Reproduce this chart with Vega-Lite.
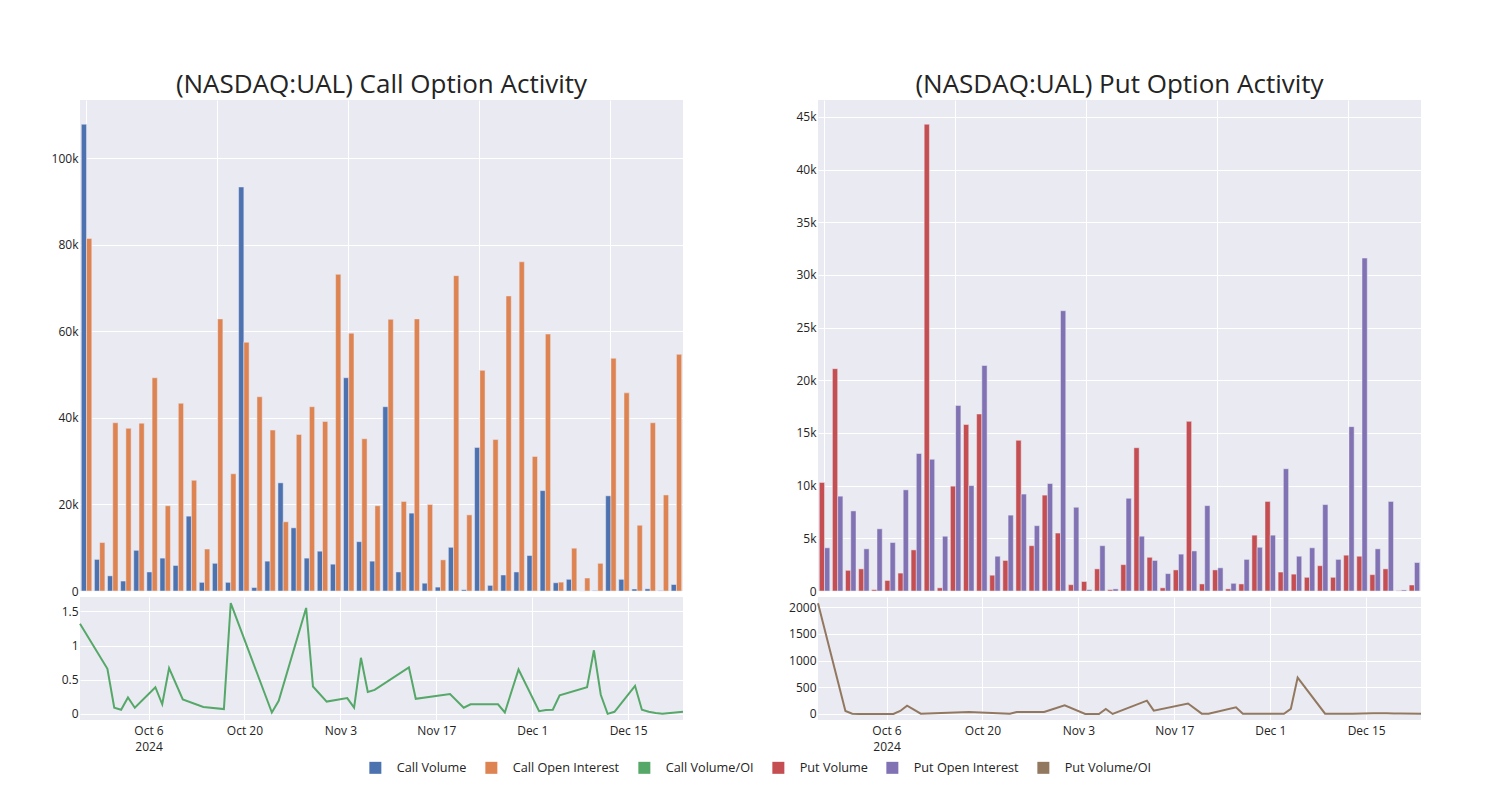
{
  "$schema": "https://vega.github.io/schema/vega-lite/v6.json",
  "background": "white",
  "padding": {"left": 40, "top": 72, "right": 5, "bottom": 5},
  "config": {
    "font": "Open Sans",
    "view": {"fill": "#EAEAF2", "stroke": null},
    "axis": {"grid": true, "gridColor": "white", "gridWidth": 1, "domain": false, "ticks": false, "labelColor": "rgb(36,36,36)", "labelFontSize": 12, "labelFont": "Open Sans", "labelPadding": 2, "title": null},
    "axisY": {"labelFlush": false},
    "axisX": {"labelPadding": 5},
    "title": {"fontSize": 26, "font": "Open Sans", "fontWeight": "normal", "color": "rgb(36,36,36)", "anchor": "middle"}
  },
  "datasets": {
    "cb": [
      {"date": "2024-09-26", "series": "Call Volume", "value": 107900}, {"date": "2024-09-26", "series": "Call Open Interest", "value": 81500},
      {"date": "2024-09-30", "series": "Call Volume", "value": 7300}, {"date": "2024-09-30", "series": "Call Open Interest", "value": 11200},
      {"date": "2024-10-01", "series": "Call Volume", "value": 3500}, {"date": "2024-10-01", "series": "Call Open Interest", "value": 38900},
      {"date": "2024-10-02", "series": "Call Volume", "value": 2300}, {"date": "2024-10-02", "series": "Call Open Interest", "value": 37600},
      {"date": "2024-10-03", "series": "Call Volume", "value": 9400}, {"date": "2024-10-03", "series": "Call Open Interest", "value": 38800},
      {"date": "2024-10-04", "series": "Call Volume", "value": 4400}, {"date": "2024-10-04", "series": "Call Open Interest", "value": 49300},
      {"date": "2024-10-07", "series": "Call Volume", "value": 7600}, {"date": "2024-10-07", "series": "Call Open Interest", "value": 19700},
      {"date": "2024-10-08", "series": "Call Volume", "value": 5900}, {"date": "2024-10-08", "series": "Call Open Interest", "value": 43400},
      {"date": "2024-10-09", "series": "Call Volume", "value": 17300}, {"date": "2024-10-09", "series": "Call Open Interest", "value": 25600},
      {"date": "2024-10-11", "series": "Call Volume", "value": 2000}, {"date": "2024-10-11", "series": "Call Open Interest", "value": 9700},
      {"date": "2024-10-14", "series": "Call Volume", "value": 6400}, {"date": "2024-10-14", "series": "Call Open Interest", "value": 62900},
      {"date": "2024-10-17", "series": "Call Volume", "value": 2000}, {"date": "2024-10-17", "series": "Call Open Interest", "value": 27100},
      {"date": "2024-10-18", "series": "Call Volume", "value": 93400}, {"date": "2024-10-18", "series": "Call Open Interest", "value": 57500},
      {"date": "2024-10-24", "series": "Call Volume", "value": 800}, {"date": "2024-10-24", "series": "Call Open Interest", "value": 44900},
      {"date": "2024-10-25", "series": "Call Volume", "value": 6900}, {"date": "2024-10-25", "series": "Call Open Interest", "value": 37200},
      {"date": "2024-10-29", "series": "Call Volume", "value": 25000}, {"date": "2024-10-29", "series": "Call Open Interest", "value": 16000},
      {"date": "2024-10-30", "series": "Call Volume", "value": 14600}, {"date": "2024-10-30", "series": "Call Open Interest", "value": 36200},
      {"date": "2024-11-01", "series": "Call Volume", "value": 7600}, {"date": "2024-11-01", "series": "Call Open Interest", "value": 42600},
      {"date": "2024-11-04", "series": "Call Volume", "value": 9200}, {"date": "2024-11-04", "series": "Call Open Interest", "value": 39200},
      {"date": "2024-11-05", "series": "Call Volume", "value": 6200}, {"date": "2024-11-05", "series": "Call Open Interest", "value": 73200},
      {"date": "2024-11-06", "series": "Call Volume", "value": 49300}, {"date": "2024-11-06", "series": "Call Open Interest", "value": 59600},
      {"date": "2024-11-07", "series": "Call Volume", "value": 11400}, {"date": "2024-11-07", "series": "Call Open Interest", "value": 35200},
      {"date": "2024-11-08", "series": "Call Volume", "value": 6900}, {"date": "2024-11-08", "series": "Call Open Interest", "value": 19700},
      {"date": "2024-11-13", "series": "Call Volume", "value": 42600}, {"date": "2024-11-13", "series": "Call Open Interest", "value": 62800},
      {"date": "2024-11-14", "series": "Call Volume", "value": 4400}, {"date": "2024-11-14", "series": "Call Open Interest", "value": 20700},
      {"date": "2024-11-19", "series": "Call Volume", "value": 18000}, {"date": "2024-11-19", "series": "Call Open Interest", "value": 62900},
      {"date": "2024-11-21", "series": "Call Volume", "value": 1800}, {"date": "2024-11-21", "series": "Call Open Interest", "value": 20000},
      {"date": "2024-11-22", "series": "Call Volume", "value": 900}, {"date": "2024-11-22", "series": "Call Open Interest", "value": 7200},
      {"date": "2024-11-26", "series": "Call Volume", "value": 10100}, {"date": "2024-11-26", "series": "Call Open Interest", "value": 72900},
      {"date": "2024-11-27", "series": "Call Volume", "value": 300}, {"date": "2024-11-27", "series": "Call Open Interest", "value": 17600},
      {"date": "2024-11-29", "series": "Call Volume", "value": 33200}, {"date": "2024-11-29", "series": "Call Open Interest", "value": 51000},
      {"date": "2024-12-02", "series": "Call Volume", "value": 1300}, {"date": "2024-12-02", "series": "Call Open Interest", "value": 35000},
      {"date": "2024-12-03", "series": "Call Volume", "value": 3700}, {"date": "2024-12-03", "series": "Call Open Interest", "value": 68200},
      {"date": "2024-12-04", "series": "Call Volume", "value": 4400}, {"date": "2024-12-04", "series": "Call Open Interest", "value": 76100},
      {"date": "2024-12-05", "series": "Call Volume", "value": 8200}, {"date": "2024-12-05", "series": "Call Open Interest", "value": 31100},
      {"date": "2024-12-09", "series": "Call Volume", "value": 23200}, {"date": "2024-12-09", "series": "Call Open Interest", "value": 59400},
      {"date": "2024-12-10", "series": "Call Volume", "value": 1900}, {"date": "2024-12-10", "series": "Call Open Interest", "value": 2050},
      {"date": "2024-12-11", "series": "Call Volume", "value": 2700}, {"date": "2024-12-11", "series": "Call Open Interest", "value": 9900},
      {"date": "2024-12-12", "series": "Call Volume", "value": 0}, {"date": "2024-12-12", "series": "Call Open Interest", "value": 3000},
      {"date": "2024-12-13", "series": "Call Volume", "value": 100}, {"date": "2024-12-13", "series": "Call Open Interest", "value": 6400},
      {"date": "2024-12-16", "series": "Call Volume", "value": 22000}, {"date": "2024-12-16", "series": "Call Open Interest", "value": 53800},
      {"date": "2024-12-17", "series": "Call Volume", "value": 2700}, {"date": "2024-12-17", "series": "Call Open Interest", "value": 45800},
      {"date": "2024-12-18", "series": "Call Volume", "value": 460}, {"date": "2024-12-18", "series": "Call Open Interest", "value": 15200},
      {"date": "2024-12-19", "series": "Call Volume", "value": 500}, {"date": "2024-12-19", "series": "Call Open Interest", "value": 38900},
      {"date": "2024-12-20", "series": "Call Volume", "value": 80}, {"date": "2024-12-20", "series": "Call Open Interest", "value": 22200},
      {"date": "2024-12-23", "series": "Call Volume", "value": 1500}, {"date": "2024-12-23", "series": "Call Open Interest", "value": 54700}
    ],
    "cr": [
      {"date": "2024-09-26", "series": "Call Volume/OI", "value": 1.32},
      {"date": "2024-09-30", "series": "Call Volume/OI", "value": 0.66},
      {"date": "2024-10-01", "series": "Call Volume/OI", "value": 0.09},
      {"date": "2024-10-02", "series": "Call Volume/OI", "value": 0.06},
      {"date": "2024-10-03", "series": "Call Volume/OI", "value": 0.24},
      {"date": "2024-10-04", "series": "Call Volume/OI", "value": 0.09},
      {"date": "2024-10-07", "series": "Call Volume/OI", "value": 0.39},
      {"date": "2024-10-08", "series": "Call Volume/OI", "value": 0.14},
      {"date": "2024-10-09", "series": "Call Volume/OI", "value": 0.67},
      {"date": "2024-10-11", "series": "Call Volume/OI", "value": 0.21},
      {"date": "2024-10-14", "series": "Call Volume/OI", "value": 0.10},
      {"date": "2024-10-17", "series": "Call Volume/OI", "value": 0.07},
      {"date": "2024-10-18", "series": "Call Volume/OI", "value": 1.62},
      {"date": "2024-10-24", "series": "Call Volume/OI", "value": 0.02},
      {"date": "2024-10-25", "series": "Call Volume/OI", "value": 0.19},
      {"date": "2024-10-29", "series": "Call Volume/OI", "value": 1.55},
      {"date": "2024-10-30", "series": "Call Volume/OI", "value": 0.40},
      {"date": "2024-11-01", "series": "Call Volume/OI", "value": 0.18},
      {"date": "2024-11-04", "series": "Call Volume/OI", "value": 0.23},
      {"date": "2024-11-05", "series": "Call Volume/OI", "value": 0.09},
      {"date": "2024-11-06", "series": "Call Volume/OI", "value": 0.82},
      {"date": "2024-11-07", "series": "Call Volume/OI", "value": 0.32},
      {"date": "2024-11-08", "series": "Call Volume/OI", "value": 0.35},
      {"date": "2024-11-13", "series": "Call Volume/OI", "value": 0.68},
      {"date": "2024-11-14", "series": "Call Volume/OI", "value": 0.22},
      {"date": "2024-11-19", "series": "Call Volume/OI", "value": 0.29},
      {"date": "2024-11-21", "series": "Call Volume/OI", "value": 0.09},
      {"date": "2024-11-22", "series": "Call Volume/OI", "value": 0.14},
      {"date": "2024-11-26", "series": "Call Volume/OI", "value": 0.14},
      {"date": "2024-11-27", "series": "Call Volume/OI", "value": 0.02},
      {"date": "2024-11-29", "series": "Call Volume/OI", "value": 0.65},
      {"date": "2024-12-02", "series": "Call Volume/OI", "value": 0.04},
      {"date": "2024-12-03", "series": "Call Volume/OI", "value": 0.055},
      {"date": "2024-12-04", "series": "Call Volume/OI", "value": 0.06},
      {"date": "2024-12-05", "series": "Call Volume/OI", "value": 0.27},
      {"date": "2024-12-09", "series": "Call Volume/OI", "value": 0.39},
      {"date": "2024-12-10", "series": "Call Volume/OI", "value": 0.93},
      {"date": "2024-12-11", "series": "Call Volume/OI", "value": 0.28},
      {"date": "2024-12-12", "series": "Call Volume/OI", "value": 0.0},
      {"date": "2024-12-13", "series": "Call Volume/OI", "value": 0.03},
      {"date": "2024-12-16", "series": "Call Volume/OI", "value": 0.41},
      {"date": "2024-12-17", "series": "Call Volume/OI", "value": 0.06},
      {"date": "2024-12-18", "series": "Call Volume/OI", "value": 0.03},
      {"date": "2024-12-19", "series": "Call Volume/OI", "value": 0.013},
      {"date": "2024-12-20", "series": "Call Volume/OI", "value": 0.0},
      {"date": "2024-12-23", "series": "Call Volume/OI", "value": 0.03}
    ],
    "pb": [
      {"date": "2024-09-26", "series": "Put Volume", "value": 10300}, {"date": "2024-09-26", "series": "Put Open Interest", "value": 4100},
      {"date": "2024-09-30", "series": "Put Volume", "value": 21100}, {"date": "2024-09-30", "series": "Put Open Interest", "value": 9000},
      {"date": "2024-10-01", "series": "Put Volume", "value": 1960}, {"date": "2024-10-01", "series": "Put Open Interest", "value": 7600},
      {"date": "2024-10-02", "series": "Put Volume", "value": 2100}, {"date": "2024-10-02", "series": "Put Open Interest", "value": 4000},
      {"date": "2024-10-03", "series": "Put Volume", "value": 130}, {"date": "2024-10-03", "series": "Put Open Interest", "value": 5900},
      {"date": "2024-10-04", "series": "Put Volume", "value": 1000}, {"date": "2024-10-04", "series": "Put Open Interest", "value": 4600},
      {"date": "2024-10-07", "series": "Put Volume", "value": 1700}, {"date": "2024-10-07", "series": "Put Open Interest", "value": 9600},
      {"date": "2024-10-08", "series": "Put Volume", "value": 3900}, {"date": "2024-10-08", "series": "Put Open Interest", "value": 13050},
      {"date": "2024-10-09", "series": "Put Volume", "value": 44300}, {"date": "2024-10-09", "series": "Put Open Interest", "value": 12500},
      {"date": "2024-10-11", "series": "Put Volume", "value": 300}, {"date": "2024-10-11", "series": "Put Open Interest", "value": 5200},
      {"date": "2024-10-14", "series": "Put Volume", "value": 9950}, {"date": "2024-10-14", "series": "Put Open Interest", "value": 17600},
      {"date": "2024-10-17", "series": "Put Volume", "value": 15800}, {"date": "2024-10-17", "series": "Put Open Interest", "value": 10000},
      {"date": "2024-10-18", "series": "Put Volume", "value": 16800}, {"date": "2024-10-18", "series": "Put Open Interest", "value": 21400},
      {"date": "2024-10-24", "series": "Put Volume", "value": 1500}, {"date": "2024-10-24", "series": "Put Open Interest", "value": 3300},
      {"date": "2024-10-25", "series": "Put Volume", "value": 2900}, {"date": "2024-10-25", "series": "Put Open Interest", "value": 7200},
      {"date": "2024-10-29", "series": "Put Volume", "value": 14300}, {"date": "2024-10-29", "series": "Put Open Interest", "value": 9200},
      {"date": "2024-10-30", "series": "Put Volume", "value": 4300}, {"date": "2024-10-30", "series": "Put Open Interest", "value": 6200},
      {"date": "2024-11-01", "series": "Put Volume", "value": 9100}, {"date": "2024-11-01", "series": "Put Open Interest", "value": 10200},
      {"date": "2024-11-04", "series": "Put Volume", "value": 5500}, {"date": "2024-11-04", "series": "Put Open Interest", "value": 26600},
      {"date": "2024-11-05", "series": "Put Volume", "value": 600}, {"date": "2024-11-05", "series": "Put Open Interest", "value": 7950},
      {"date": "2024-11-06", "series": "Put Volume", "value": 900}, {"date": "2024-11-06", "series": "Put Open Interest", "value": 130},
      {"date": "2024-11-07", "series": "Put Volume", "value": 2100}, {"date": "2024-11-07", "series": "Put Open Interest", "value": 4300},
      {"date": "2024-11-08", "series": "Put Volume", "value": 130}, {"date": "2024-11-08", "series": "Put Open Interest", "value": 200},
      {"date": "2024-11-13", "series": "Put Volume", "value": 2500}, {"date": "2024-11-13", "series": "Put Open Interest", "value": 8800},
      {"date": "2024-11-14", "series": "Put Volume", "value": 13600}, {"date": "2024-11-14", "series": "Put Open Interest", "value": 5200},
      {"date": "2024-11-19", "series": "Put Volume", "value": 3200}, {"date": "2024-11-19", "series": "Put Open Interest", "value": 2900},
      {"date": "2024-11-21", "series": "Put Volume", "value": 300}, {"date": "2024-11-21", "series": "Put Open Interest", "value": 1650},
      {"date": "2024-11-22", "series": "Put Volume", "value": 2000}, {"date": "2024-11-22", "series": "Put Open Interest", "value": 3500},
      {"date": "2024-11-26", "series": "Put Volume", "value": 16100}, {"date": "2024-11-26", "series": "Put Open Interest", "value": 3800},
      {"date": "2024-11-27", "series": "Put Volume", "value": 670}, {"date": "2024-11-27", "series": "Put Open Interest", "value": 8100},
      {"date": "2024-11-29", "series": "Put Volume", "value": 2000}, {"date": "2024-11-29", "series": "Put Open Interest", "value": 2200},
      {"date": "2024-12-02", "series": "Put Volume", "value": 200}, {"date": "2024-12-02", "series": "Put Open Interest", "value": 730},
      {"date": "2024-12-03", "series": "Put Volume", "value": 670}, {"date": "2024-12-03", "series": "Put Open Interest", "value": 3000},
      {"date": "2024-12-04", "series": "Put Volume", "value": 5300}, {"date": "2024-12-04", "series": "Put Open Interest", "value": 4150},
      {"date": "2024-12-05", "series": "Put Volume", "value": 8500}, {"date": "2024-12-05", "series": "Put Open Interest", "value": 5300},
      {"date": "2024-12-09", "series": "Put Volume", "value": 1800}, {"date": "2024-12-09", "series": "Put Open Interest", "value": 11600},
      {"date": "2024-12-10", "series": "Put Volume", "value": 1600}, {"date": "2024-12-10", "series": "Put Open Interest", "value": 3300},
      {"date": "2024-12-11", "series": "Put Volume", "value": 1300}, {"date": "2024-12-11", "series": "Put Open Interest", "value": 4100},
      {"date": "2024-12-12", "series": "Put Volume", "value": 2400}, {"date": "2024-12-12", "series": "Put Open Interest", "value": 8200},
      {"date": "2024-12-13", "series": "Put Volume", "value": 1300}, {"date": "2024-12-13", "series": "Put Open Interest", "value": 3000},
      {"date": "2024-12-16", "series": "Put Volume", "value": 3400}, {"date": "2024-12-16", "series": "Put Open Interest", "value": 15600},
      {"date": "2024-12-17", "series": "Put Volume", "value": 3300}, {"date": "2024-12-17", "series": "Put Open Interest", "value": 31600},
      {"date": "2024-12-18", "series": "Put Volume", "value": 1550}, {"date": "2024-12-18", "series": "Put Open Interest", "value": 4000},
      {"date": "2024-12-19", "series": "Put Volume", "value": 2100}, {"date": "2024-12-19", "series": "Put Open Interest", "value": 8500},
      {"date": "2024-12-20", "series": "Put Volume", "value": 30}, {"date": "2024-12-20", "series": "Put Open Interest", "value": 100},
      {"date": "2024-12-23", "series": "Put Volume", "value": 570}, {"date": "2024-12-23", "series": "Put Open Interest", "value": 2700}
    ],
    "pr": [
      {"date": "2024-09-26", "series": "Put Volume/OI", "value": 2075},
      {"date": "2024-09-30", "series": "Put Volume/OI", "value": 56},
      {"date": "2024-10-01", "series": "Put Volume/OI", "value": 6},
      {"date": "2024-10-02", "series": "Put Volume/OI", "value": 0},
      {"date": "2024-10-03", "series": "Put Volume/OI", "value": 0},
      {"date": "2024-10-04", "series": "Put Volume/OI", "value": 0},
      {"date": "2024-10-07", "series": "Put Volume/OI", "value": 0},
      {"date": "2024-10-08", "series": "Put Volume/OI", "value": 56},
      {"date": "2024-10-09", "series": "Put Volume/OI", "value": 156},
      {"date": "2024-10-11", "series": "Put Volume/OI", "value": 6},
      {"date": "2024-10-14", "series": "Put Volume/OI", "value": 20},
      {"date": "2024-10-17", "series": "Put Volume/OI", "value": 32},
      {"date": "2024-10-18", "series": "Put Volume/OI", "value": 38},
      {"date": "2024-10-24", "series": "Put Volume/OI", "value": 6},
      {"date": "2024-10-25", "series": "Put Volume/OI", "value": 38},
      {"date": "2024-10-29", "series": "Put Volume/OI", "value": 38},
      {"date": "2024-10-30", "series": "Put Volume/OI", "value": 80},
      {"date": "2024-11-01", "series": "Put Volume/OI", "value": 160},
      {"date": "2024-11-04", "series": "Put Volume/OI", "value": 0},
      {"date": "2024-11-05", "series": "Put Volume/OI", "value": 0},
      {"date": "2024-11-06", "series": "Put Volume/OI", "value": 0},
      {"date": "2024-11-07", "series": "Put Volume/OI", "value": 95},
      {"date": "2024-11-08", "series": "Put Volume/OI", "value": 0},
      {"date": "2024-11-13", "series": "Put Volume/OI", "value": 250},
      {"date": "2024-11-14", "series": "Put Volume/OI", "value": 62},
      {"date": "2024-11-19", "series": "Put Volume/OI", "value": 195},
      {"date": "2024-11-21", "series": "Put Volume/OI", "value": 6},
      {"date": "2024-11-22", "series": "Put Volume/OI", "value": 6},
      {"date": "2024-11-26", "series": "Put Volume/OI", "value": 125},
      {"date": "2024-11-27", "series": "Put Volume/OI", "value": 6},
      {"date": "2024-11-29", "series": "Put Volume/OI", "value": 3},
      {"date": "2024-12-02", "series": "Put Volume/OI", "value": 3},
      {"date": "2024-12-03", "series": "Put Volume/OI", "value": 3},
      {"date": "2024-12-04", "series": "Put Volume/OI", "value": 95},
      {"date": "2024-12-05", "series": "Put Volume/OI", "value": 680},
      {"date": "2024-12-09", "series": "Put Volume/OI", "value": 6},
      {"date": "2024-12-10", "series": "Put Volume/OI", "value": 5},
      {"date": "2024-12-11", "series": "Put Volume/OI", "value": 5},
      {"date": "2024-12-12", "series": "Put Volume/OI", "value": 5},
      {"date": "2024-12-13", "series": "Put Volume/OI", "value": 5},
      {"date": "2024-12-16", "series": "Put Volume/OI", "value": 15},
      {"date": "2024-12-17", "series": "Put Volume/OI", "value": 15},
      {"date": "2024-12-18", "series": "Put Volume/OI", "value": 12},
      {"date": "2024-12-19", "series": "Put Volume/OI", "value": 10},
      {"date": "2024-12-20", "series": "Put Volume/OI", "value": 8},
      {"date": "2024-12-23", "series": "Put Volume/OI", "value": 5}
    ]
  },
  "spacing": 91,
  "resolve": {"scale": {"color": "shared", "xOffset": "independent", "x": "independent", "y": "independent"}},
  "hconcat": [
    {
      "spacing": 0,
      "resolve": {"scale": {"xOffset": "independent", "x": "independent", "y": "independent"}},
      "vconcat": [
        {
          "title": {"text": "(NASDAQ:UAL) Call Option Activity", "offset": 2},
          "width": 603, "height": 491,
          "data": {"name": "cb"},
          "mark": {"type": "bar", "stroke": "#EAEAF2", "strokeWidth": 0.5},
          "encoding": {
            "x": {"field": "date", "type": "ordinal", "sort": null, "scale": {"paddingInner": 0.2, "paddingOuter": 0.1}, "axis": {"labels": false, "values": ["2024-09-26", "2024-10-14", "2024-11-06", "2024-11-29", "2024-12-16"], "bandPosition": 0.5, "minExtent": 0, "maxExtent": 0}},
            "xOffset": {"field": "series", "type": "nominal", "sort": ["Call Volume", "Call Open Interest"], "scale": {"domain": ["Call Volume", "Call Open Interest"], "paddingInner": 0, "paddingOuter": 0}},
            "y": {"field": "value", "type": "quantitative", "scale": {"domain": [0, 113500], "nice": false}, "axis": {"values": [0, 20000, 40000, 60000, 80000, 100000], "labelExpr": "datum.value == 0 ? '0' : (datum.value / 1000) + 'k'", "minExtent": 40, "maxExtent": 40}},
            "color": {
              "field": "series", "type": "nominal",
              "scale": {"domain": ["Call Volume", "Call Open Interest", "Call Volume/OI", "Put Volume", "Put Open Interest", "Put Volume/OI"], "range": ["rgb(76,114,176)", "rgb(221,132,82)", "rgb(85,168,104)", "rgb(196,78,82)", "rgb(129,114,179)", "rgb(147,120,96)"]},
              "legend": {
                "orient": "none", "legendX": 289, "legendY": 661, "direction": "horizontal", "title": null,
                "labelFontSize": 12.7, "labelFont": "Open Sans", "labelColor": "rgb(36,36,36)", "columnPadding": 18, "labelOffset": 15,
                "symbolType": "square", "symbolSize": 144, "symbolStrokeWidth": 0
              }
            }
          }
        },
        {
          "width": 603, "height": 123,
          "data": {"name": "cr"},
          "mark": {"type": "line", "strokeWidth": 2},
          "encoding": {
            "x": {"field": "date", "type": "temporal", "scale": {"type": "utc", "domain": [{"year": 2024, "month": 9, "date": 26, "utc": true}, {"year": 2024, "month": 12, "date": 23, "utc": true}], "nice": false},
              "axis": {"values": [{"year": 2024, "month": 10, "date": 6, "utc": true}, {"year": 2024, "month": 10, "date": 20, "utc": true}, {"year": 2024, "month": 11, "date": 3, "utc": true}, {"year": 2024, "month": 11, "date": 17, "utc": true}, {"year": 2024, "month": 12, "date": 1, "utc": true}, {"year": 2024, "month": 12, "date": 15, "utc": true}],
                "labelExpr": "(utcmonth(datum.value) == 9 && utcdate(datum.value) == 6) ? ['Oct 6', '2024'] : utcFormat(datum.value, '%b %-d')", "labelLineHeight": 16}},
            "y": {"field": "value", "type": "quantitative", "scale": {"domain": [-0.09, 1.71], "nice": false, "zero": false}, "axis": {"values": [0, 0.5, 1, 1.5], "format": "~g", "minExtent": 40, "maxExtent": 40}},
            "color": {"field": "series", "type": "nominal"}
          }
        }
      ]
    },
    {
      "spacing": 0,
      "resolve": {"scale": {"xOffset": "independent", "x": "independent", "y": "independent"}},
      "vconcat": [
        {
          "title": {"text": "(NASDAQ:UAL) Put Option Activity", "offset": 2},
          "width": 603, "height": 491,
          "data": {"name": "pb"},
          "mark": {"type": "bar", "stroke": "#EAEAF2", "strokeWidth": 0.5},
          "encoding": {
            "x": {"field": "date", "type": "ordinal", "sort": null, "scale": {"paddingInner": 0.2, "paddingOuter": 0.1}, "axis": {"labels": false, "values": ["2024-09-26", "2024-10-14", "2024-11-06", "2024-11-29", "2024-12-16"], "bandPosition": 0.5, "minExtent": 0, "maxExtent": 0}},
            "xOffset": {"field": "series", "type": "nominal", "sort": ["Put Volume", "Put Open Interest"], "scale": {"domain": ["Put Volume", "Put Open Interest"], "paddingInner": 0, "paddingOuter": 0}},
            "y": {"field": "value", "type": "quantitative", "scale": {"domain": [0, 46600], "nice": false}, "axis": {"values": [0, 5000, 10000, 15000, 20000, 25000, 30000, 35000, 40000, 45000], "labelExpr": "datum.value == 0 ? '0' : (datum.value / 1000) + 'k'", "minExtent": 40, "maxExtent": 40}},
            "color": {"field": "series", "type": "nominal"}
          }
        },
        {
          "width": 603, "height": 123,
          "data": {"name": "pr"},
          "mark": {"type": "line", "strokeWidth": 2},
          "encoding": {
            "x": {"field": "date", "type": "temporal", "scale": {"type": "utc", "domain": [{"year": 2024, "month": 9, "date": 26, "utc": true}, {"year": 2024, "month": 12, "date": 23, "utc": true}], "nice": false},
              "axis": {"values": [{"year": 2024, "month": 10, "date": 6, "utc": true}, {"year": 2024, "month": 10, "date": 20, "utc": true}, {"year": 2024, "month": 11, "date": 3, "utc": true}, {"year": 2024, "month": 11, "date": 17, "utc": true}, {"year": 2024, "month": 12, "date": 1, "utc": true}, {"year": 2024, "month": 12, "date": 15, "utc": true}],
                "labelExpr": "(utcmonth(datum.value) == 9 && utcdate(datum.value) == 6) ? ['Oct 6', '2024'] : utcFormat(datum.value, '%b %-d')", "labelLineHeight": 16}},
            "y": {"field": "value", "type": "quantitative", "scale": {"domain": [-113, 2190], "nice": false, "zero": false}, "axis": {"values": [0, 500, 1000, 1500, 2000], "format": "d", "minExtent": 40, "maxExtent": 40}},
            "color": {"field": "series", "type": "nominal"}
          }
        }
      ]
    }
  ]
}
